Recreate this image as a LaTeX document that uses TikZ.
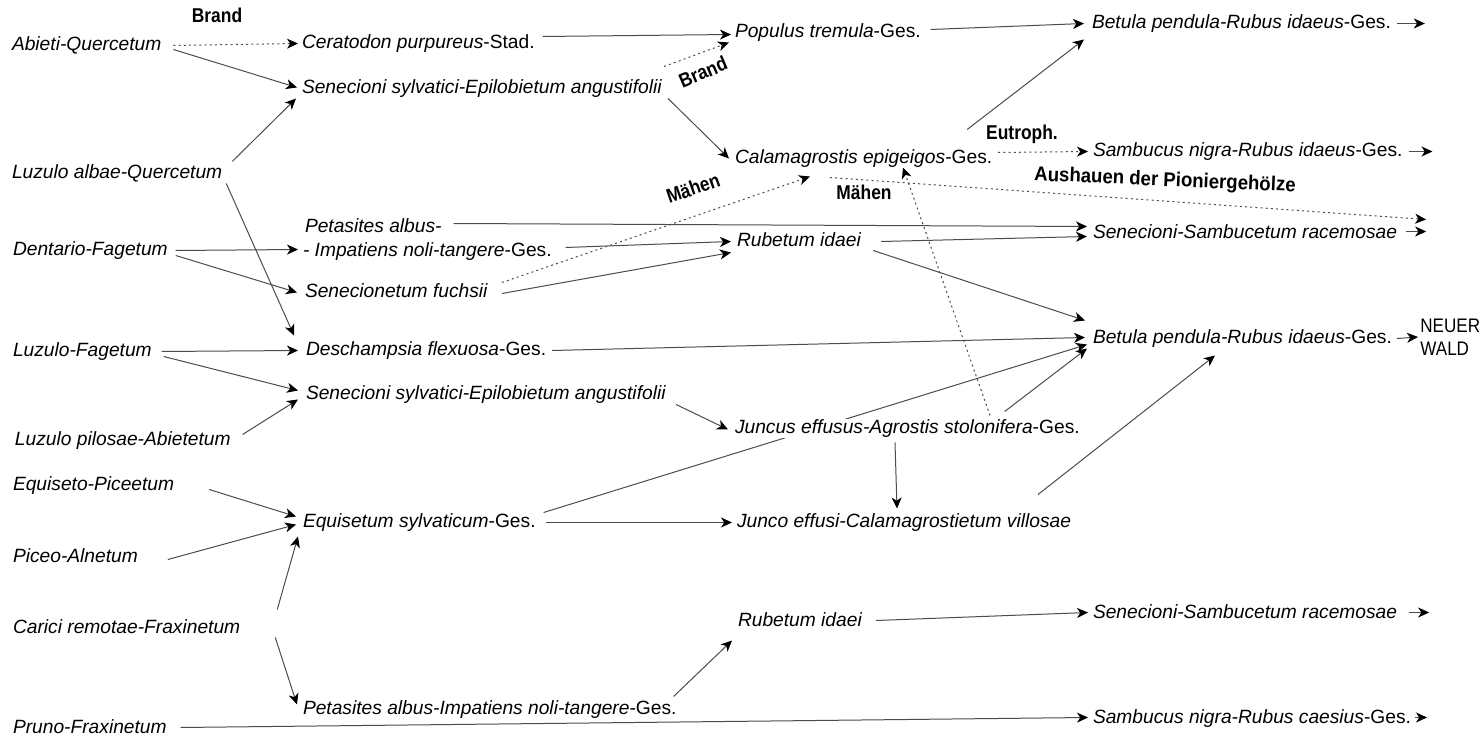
\documentclass[tikz,border=0pt]{standalone}
\usepackage{fontspec}
\setmainfont{Liberation Sans}
\newfontfamily\labfont{Liberation Sans}[FakeStretch=0.87]
\newfontfamily\widelabfont{Liberation Sans}[FakeStretch=0.93]
\usetikzlibrary{arrows.meta,calc,backgrounds}
\tikzset{
  veg/.style={anchor=base west, inner sep=0pt, outer sep=0pt, text height=0.75em, text depth=0.2em, fill=white, font=\fontsize{9.6}{11.5}\selectfont},
  lab/.style={inner sep=0pt, font=\labfont\bfseries\fontsize{10}{12}\selectfont},
  con/.style={line width=0.5pt, draw=black!70, -{Stealth[length=5.5pt,width=5pt,inset=1.6pt,color=black]}},
  dots/.style={con, dash pattern=on 1pt off 1.6pt}
}
\begin{document}
\begin{tikzpicture}[x=0.5pt,y=-0.5pt]
\useasboundingbox (0,0) rectangle (1484,737);
% left column
\node[veg] (abq) at (12,51) {\textit{Abieti-Quercetum}};
\node[veg] (laq) at (12,179) {\textit{Luzulo albae-Quercetum}};
\node[veg] (df) at (13,256) {\textit{Dentario-Fagetum}};
\node[veg] (lf) at (13,357) {\textit{Luzulo-Fagetum}};
\node[veg] (lpa) at (15,446) {\textit{Luzulo pilosae-Abietetum}};
\node[veg] (ep) at (13,491) {\textit{Equiseto-Piceetum}};
\node[veg] (pa) at (13,563) {\textit{Piceo-Alnetum}};
\node[veg] (crf) at (13,633) {\textit{Carici remotae-Fraxinetum}};
\node[veg] (pf) at (13,733) {\textit{Pruno-Fraxinetum}};
% second column
\node[veg] (cer) at (302,49) {\textit{Ceratodon purpureus}-Stad.};
\node[veg] (ssA) at (302,94) {\textit{Senecioni sylvatici-Epilobietum angustifolii}};
\node[veg] (petA) at (305,233) {\textit{Petasites albus-}};
\node[veg] (petB) at (303,257) {\textit{- Impatiens noli-tangere}-Ges.};
\node[veg] (sf) at (305,298) {\textit{Senecionetum fuchsii}};
\node[veg] (dfl) at (306,356) {\textit{Deschampsia flexuosa}-Ges.};
\node[veg] (ssB) at (306,400) {\textit{Senecioni sylvatici-Epilobietum angustifolii}};
\node[veg] (eqs) at (303,528) {\textit{Equisetum sylvaticum}-Ges.};
\node[veg] (petC) at (303,714) {\textit{Petasites albus-Impatiens noli-tangere}-Ges.};
% third column
\node[veg] (pop) at (735,38) {\textit{Populus tremula}-Ges.};
\node[veg] (cal) at (735,164) {\textit{Calamagrostis epigeigos}-Ges.};
\node[veg] (rubA) at (737,247) {\textit{Rubetum idaei}};
\node[veg] (jun) at (735,434) {\textit{Juncus effusus-Agrostis stolonifera}-Ges.};
\node[veg] (jcv) at (737,528) {\textit{Junco effusi-Calamagrostietum villosae}};
\node[veg] (rubB) at (738,626) {\textit{Rubetum idaei}};
% fourth column
\node[veg] (betA) at (1092,29) {\textit{Betula pendula-Rubus idaeus}-Ges.};
\node[veg] (samA) at (1093,157) {\textit{Sambucus nigra-Rubus idaeus}-Ges.};
\node[veg] (sssA) at (1093,239) {\textit{Senecioni-Sambucetum racemosae}};
\node[veg] (betB) at (1093,344) {\textit{Betula pendula-Rubus idaeus}-Ges.};
\node[veg] (sssB) at (1093,618) {\textit{Senecioni-Sambucetum racemosae}};
\node[veg] (samC) at (1093,723) {\textit{Sambucus nigra-Rubus caesius}-Ges.};
\node[anchor=west, inner sep=0pt, align=left, font=\labfont\fontsize{9.8}{11.5}\selectfont] (wald) at (1420,337) {NEUER\\WALD};
% labels
\node[lab] (brandA) at (217,15) {Brand};
\node[lab, rotate=23] (brandB) at (703,72) {Brand};
\node[lab, rotate=19] (maehA) at (693,188) {Mähen};
\node[lab] (maehB) at (864,192) {Mähen};
\node[lab] (eutro) at (1022,134) {Eutroph.};
\node[inner sep=0pt, font=\widelabfont\bfseries\fontsize{10}{12}\selectfont, rotate=-2.5] (aush) at (1165,181) {Aushauen der Pioniergehölze};
% free ends
\coordinate (oA) at ($(betA.east)+(34,0)$);
\coordinate (oB) at ($(samA.east)+(30,0)$);
\coordinate (oC) at ($(sssA.east)+(29,-2)$);
\coordinate (oD) at ($(sssA.east)+(29,-14)$);
\coordinate (oE) at ($(sssB.east)+(32,0)$);
\coordinate (oF) at ($(samC.east)+(16,0)$);
\begin{pgfonlayer}{background}
\fill[white] (0,0) rectangle (1484,737);
\draw[dots] ($(abq.east)+(12,0)$) -- ($(cer.west)+(-4,0)$);
\draw[con] ($(abq.east)+(12,4)$) -- ($(ssA.west)+(-5,-1)$);
\draw[con] ($(laq.east)+(10,-12)$) -- ($(ssA.west)+(-6,10)$);
\draw[con] ($(laq.east)+(4,10)$) -- ($(dfl.west)+(-12,-15)$);
\draw[con] ($(cer.east)+(8,-7)$) -- ($(pop.west)+(-4,2)$);
\draw[dots] ($(ssA.east)+(2,-22)$) -- ($(pop.west)+(-6,10)$);
\draw[con] ($(ssA.east)+(6,10)$) -- ($(cal.west)+(-6,0)$);
\draw[con] ($(pop.east)+(10,-3)$) -- ($(betA.west)+(-8,0)$);
\draw[con] ($(cal.east)+(-25,-29)$) -- ($(betA.west)+(-8,16)$);
\draw[dots] ($(cal.east)+(6,-6)$) -- ($(samA.west)+(-5,0)$);
\draw[dots] ($(cal.west)+(95,19)$) -- (oD);
\draw[dots] ($(sf.east)+(14,-10)$) -- ($(cal.west)+(75,18)$);
\draw[dots] ($(jun.west)+(255,-13)$) -- ($(cal.west)+(168,9)$);
\draw[con] ($(petA.east)+(12,-4)$) -- ($(sssA.west)+(-6,-7)$);
\draw[con] ($(petB.east)+(14,-4)$) -- ($(rubA.west)+(-6,0)$);
\draw[con] ($(sf.east)+(14,1)$) -- ($(rubA.west)+(-6,11)$);
\draw[con] ($(rubA.east)+(20,0)$) -- ($(sssA.west)+(-6,3)$);
\draw[con] ($(rubA.east)+(12,9)$) -- ($(betB.west)+(-8,-18)$);
\draw[con] ($(df.east)+(8,0)$) -- ($(petB.west)+(-5,-2)$);
\draw[con] ($(df.east)+(8,5)$) -- ($(sf.west)+(-8,0)$);
\draw[con] ($(lf.east)+(10,0)$) -- ($(dfl.west)+(-8,0)$);
\draw[con] ($(lf.east)+(12,5)$) -- ($(ssB.west)+(-8,-4)$);
\draw[con] ($(lpa.east)+(12,-6)$) -- ($(ssB.west)+(-8,5)$);
\draw[con] ($(dfl.east)+(6,0)$) -- ($(betB.west)+(-8,-1)$);
\draw[con] ($(ssB.east)+(10,10)$) -- ($(jun.west)+(-7,1)$);
\draw[con] ($(jun.east)+(-75,-17)$) -- ($(betB.west)+(-6,10)$);
\draw[con] ($(jun.west)+(160,14)$) -- ($(jcv.west)+(160,-14)$);
\draw[con] ($(eqs.east)+(8,-10)$) -- ($(betB.west)+(-6,6)$);
\draw[con] ($(eqs.east)+(10,0)$) -- ($(jcv.west)+(-5,0)$);
\draw[con] ($(jcv.east)+(-33,-28)$) -- ($(betB.west)+(122,17)$);
\draw[con] ($(ep.east)+(35,4)$) -- ($(eqs.west)+(-7,-6)$);
\draw[con] ($(pa.east)+(30,2)$) -- ($(eqs.west)+(-7,2)$);
\draw[con] ($(crf.east)+(37,-18)$) -- ($(eqs.west)+(-5,14)$);
\draw[con] ($(crf.east)+(35,10)$) -- ($(petC.west)+(-6,-4)$);
\draw[con] ($(petC.east)+(-3,-12)$) -- ($(rubB.west)+(-6,20)$);
\draw[con] ($(rubB.east)+(14,0)$) -- ($(sssB.west)+(-5,0)$);
\draw[con] ($(pf.east)+(14,0)$) -- ($(samC.west)+(-5,0)$);
\draw[con] ($(betA.east)+(6,0)$) -- (oA);
\draw[con] ($(samA.east)+(6,0)$) -- (oB);
\draw[con] ($(sssA.east)+(9,-2)$) -- (oC);
\draw[con] ($(betB.east)+(5,0)$) -- ($(wald.west)+(-2,0)$);
\draw[con] ($(sssB.east)+(12,0)$) -- (oE);
\draw[con] ($(samC.east)+(4,0)$) -- (oF);
\end{pgfonlayer}
\end{tikzpicture}
\end{document}
